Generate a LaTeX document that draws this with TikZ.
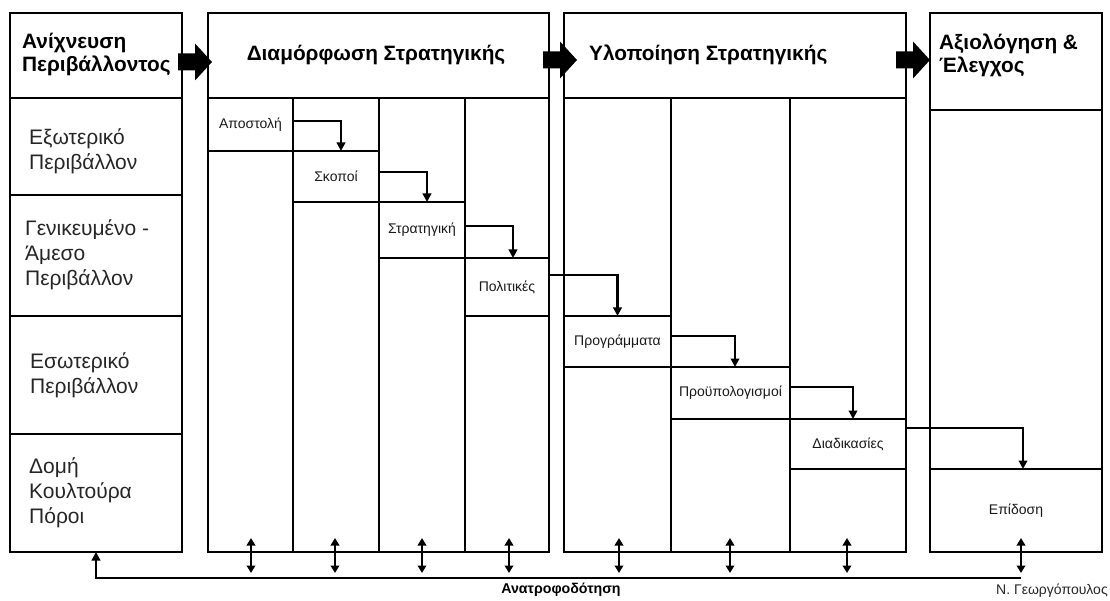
\documentclass[tikz,border=0pt]{standalone}
\usepackage{fontspec}
\setmainfont{Liberation Sans}
\usetikzlibrary{arrows.meta}
\begin{document}
\begin{tikzpicture}[x=1pt,y=-1pt,
  panel/.style={draw=black,line width=1.6pt},
  cell/.style={rectangle,inner sep=0pt,outer sep=0pt,anchor=north west,
    font=\fontsize{14}{16}\selectfont,text=black!90},
  head/.style={font=\fontsize{20.8}{23}\selectfont\bfseries,align=left,inner sep=0pt},
  side/.style={font=\fontsize{21}{25}\selectfont,align=left,inner sep=0pt,anchor=west,text=black!85},
  flow/.style={line width=2.6pt,-{Triangle[length=8.5pt,width=8.5pt]}},
  link/.style={line width=2.6pt,{Triangle[length=7.5pt,width=8.5pt]}-{Triangle[length=7.5pt,width=8.5pt]}},
  phase/.pic={\fill[black] (0,-8.5) -- (17,-8.5) -- (17,-18.5) -- (34,0) -- (17,18.5)
    -- (17,8.5) -- (0,8.5) -- cycle;}
]
\useasboundingbox (0,0) rectangle (1110,601);

% environment scanning panel
\draw[panel] (10,13) rectangle (182,552);
\draw[panel] (10,98) -- (182,98) (10,195) -- (182,195) (10,316) -- (182,316);
\node[cell,minimum width=172pt,minimum height=118pt] (res) at (10,434) {};
\draw[panel] (res.north west) -- (res.north east);
\node[head,anchor=west] (hEnv) at (22,55) {Ανίχνευση\\Περιβάλλοντος};
\node[side] (ext) at (29,151) {Εξωτερικό\\Περιβάλλον};
\node[side] (gen) at (25,255) {Γενικευμένο -\\Άμεσο\\Περιβάλλον};
\node[side] (int) at (30,375) {Εσωτερικό\\Περιβάλλον};
\node[side] (str-res) at (29,493) {Δομή\\Κουλτούρα\\Πόροι};

% strategy formulation panel
\draw[panel] (208,13) rectangle (549,552);
\draw[panel] (208,98) -- (549,98) (293,98) -- (293,552) (379,98) -- (379,552) (465,98) -- (465,552);
\node[head] (hForm) at (376,55) {Διαμόρφωση Στρατηγικής};
\node[cell,minimum width=85pt,minimum height=53pt] (apo) at (208,98) {Αποστολή};
\node[cell,minimum width=86pt,minimum height=51pt] (sko) at (293,151) {Σκοποί};
\node[cell,minimum width=86pt,minimum height=56pt] (stra) at (379,202) {Στρατηγική};
\node[cell,minimum width=84pt,minimum height=58pt] (pol) at (465,258) {Πολιτικές};

% strategy implementation panel
\draw[panel] (564,13) rectangle (906,552);
\draw[panel] (564,98) -- (906,98) (671,98) -- (671,552) (790,98) -- (790,552);
\node[head,anchor=west] (hImpl) at (589,55) {Υλοποίηση Στρατηγικής};
\node[cell,minimum width=107pt,minimum height=51pt] (pro) at (564,316) {Προγράμματα};
\node[cell,minimum width=119pt,minimum height=52pt] (bud) at (671,367) {Προϋπολογισμοί};
\node[cell,minimum width=116pt,minimum height=50pt] (dia) at (790,419) {Διαδικασίες};

% evaluation and control panel
\draw[panel] (930,13) rectangle (1102,552);
\draw[panel] (930,110) -- (1102,110);
\node[head,anchor=west] (hEval) at (939,55) {Αξιολόγηση \&\\Έλεγχος};
\node[cell,minimum width=172pt,minimum height=83pt] (epi) at (930,469) {Επίδοση};

% step cell borders (sides coincide with the column rules)
\foreach \c in {sko,stra,pol,pro,bud,dia,epi}
  \draw[panel] (\c.north west) -- (\c.north east);
\foreach \c in {apo,sko,stra,pol,pro,bud,dia}
  \draw[panel] (\c.south west) -- (\c.south east);

% phase arrows between panels
\pic at (178,62) {phase};
\pic at (543,60) {phase};
\pic at (896,60) {phase};

% cascade between steps
\draw[flow] ([yshift=3.5pt]apo.east) -| ([xshift=5pt]sko.north);
\draw[flow] ([yshift=4.5pt]sko.east) -| ([xshift=5pt]stra.north);
\draw[flow] ([yshift=4pt]stra.east) -| ([xshift=6pt]pol.north);
\draw[flow] ([yshift=12pt]pol.east) -| (pro.north);
\draw[flow] ([yshift=5.5pt]pro.east) -| ([xshift=4.5pt]bud.north);
\draw[flow] ([yshift=6pt]bud.east) -| ([xshift=5pt]dia.north);
\draw[flow] ([yshift=16pt]dia.east) -| ([xshift=7pt]epi.north);

% feedback loop
\coordinate (fbend) at (1021,578);
\draw[flow] (fbend) -| (res.south);
\foreach \x [count=\i] in {251,335,422,509,619,730,847,1021}{
  \coordinate (up\i) at (\x,538);
  \coordinate (dn\i) at (\x,573);
  \draw[link] (up\i) -- (dn\i);
}
\node[font=\fontsize{14.2}{16}\selectfont\bfseries,inner sep=0pt] (fbl) at (561,590) {Ανατροφοδότηση};
\node[font=\fontsize{14}{16}\selectfont,inner sep=0pt,anchor=west,text=black!85] (auth) at (996,591) {Ν. Γεωργόπουλος};
\end{tikzpicture}
\end{document}
